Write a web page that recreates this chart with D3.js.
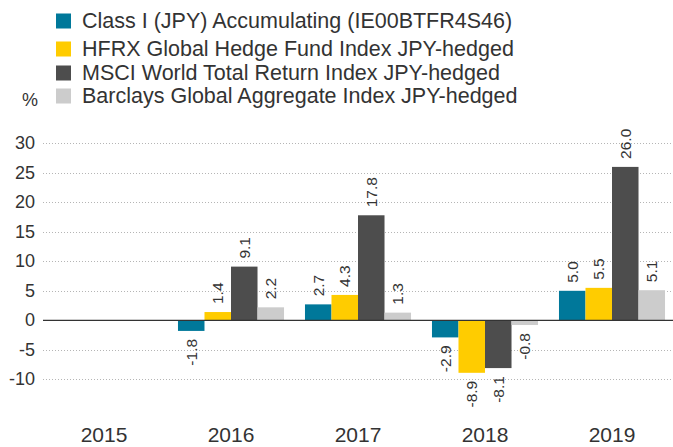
<!DOCTYPE html>
<html><head><meta charset="utf-8">
<script src="https://cdn.jsdelivr.net/npm/d3@7"></script>
<style>html,body{margin:0;padding:0;background:#fff;}svg{display:block;font-family:"Liberation Sans",Arial,sans-serif;}</style>
</head><body>
<svg id="c" width="673" height="447"></svg>
<script>
const years = ["2015","2016","2017","2018","2019"];
const seriesNames = [
  "Class I (JPY) Accumulating (IE00BTFR4S46)",
  "HFRX Global Hedge Fund Index JPY-hedged",
  "MSCI World Total Return Index JPY-hedged",
  "Barclays Global Aggregate Index JPY-hedged"
];
const classI = [null, -1.8, 2.7, -2.9, 5.0];
const hfrx   = [null, 1.4, 4.3, -8.9, 5.5];
const msci   = [null, 9.1, 17.8, -8.1, 26.0];
const barclays = [null, 2.2, 1.3, -0.8, 5.1];
const yTicks = [-10, -5, 0, 5, 10, 15, 20, 25, 30];
const colors = ["#00789a", "#ffcc00", "#4d4d4d", "#cccccc"];

const seriesVals = [classI, hfrx, msci, barclays];
const svg = d3.select("#c");
const textColor = "#333";

const y = d3.scaleLinear().domain([-10, 30]).range([379.3, 143.3]);
const x0 = d3.scaleBand().domain(years).range([40.5, 675.5]).paddingInner(0.165).paddingOuter(0.0825);
const x1 = d3.scaleBand().domain(d3.range(4)).range([0, x0.bandwidth()]);

// grid
const gridLeft = 43, gridRight = 673;
svg.append("g").selectAll("line").data(yTicks.filter(d => d !== 0)).join("line")
  .attr("x1", gridLeft).attr("x2", gridRight)
  .attr("y1", d => Math.round(y(d)) + 0.5).attr("y2", d => Math.round(y(d)) + 0.5)
  .attr("stroke", "#b5b5b5").attr("stroke-width", 1).attr("stroke-dasharray", "1,2");

// y tick labels
svg.append("g").selectAll("text").data(yTicks).join("text")
  .attr("x", 35).attr("y", d => y(d))
  .attr("text-anchor", "end").attr("dominant-baseline", "central")
  .attr("font-size", 18).attr("fill", textColor)
  .text(d => String(d));

// bars
const flat = [];
years.forEach((yr, i) => seriesVals.forEach((s, j) => {
  if (s[i] !== null) flat.push({yr, j, v: s[i]});
}));
svg.append("g").selectAll("rect").data(flat).join("rect")
  .attr("x", d => x0(d.yr) + x1(d.j))
  .attr("width", x1.bandwidth())
  .attr("y", d => y(Math.max(0, d.v)))
  .attr("height", d => Math.abs(y(d.v) - y(0)))
  .attr("fill", d => colors[d.j]);

// zero line
svg.append("line").attr("x1", gridLeft).attr("x2", gridRight)
  .attr("y1", y(0)).attr("y2", y(0)).attr("stroke", "#333").attr("stroke-width", 1.2);

// value labels
svg.append("g").selectAll("text").data(flat).join("text")
  .attr("transform", d => {
    const cx = x0(d.yr) + x1(d.j) + x1.bandwidth() / 2;
    const yy = d.v >= 0 ? y(d.v) - 8 : y(d.v) + 8;
    return `translate(${cx},${yy}) rotate(-90)`;
  })
  .attr("text-anchor", d => d.v >= 0 ? "start" : "end")
  .attr("dominant-baseline", "central")
  .attr("font-size", 15.5).attr("fill", textColor)
  .text(d => d.v.toFixed(1));

// x labels
svg.append("g").selectAll("text").data(years).join("text")
  .attr("x", d => x0(d) + x0.bandwidth() / 2).attr("y", 442)
  .attr("text-anchor", "middle").attr("font-size", 21).attr("fill", textColor)
  .text(d => d);

// legend
const legendY = [21, 49, 73, 96];
const lg = svg.append("g").selectAll("g").data(seriesNames).join("g")
  .attr("transform", (d, i) => `translate(56,${legendY[i]})`);
lg.append("rect").attr("x", 0).attr("y", -7.5).attr("width", 15).attr("height", 15)
  .attr("fill", (d, i) => colors[i]);
lg.append("text").attr("x", 26).attr("y", 0).attr("dominant-baseline", "central")
  .attr("font-size", 21.5).attr("fill", textColor).text(d => d);

svg.append("text").attr("x", 22).attr("y", 100).attr("dominant-baseline", "central")
  .attr("font-size", 18).attr("fill", textColor).text("%");
</script>
</body></html>
